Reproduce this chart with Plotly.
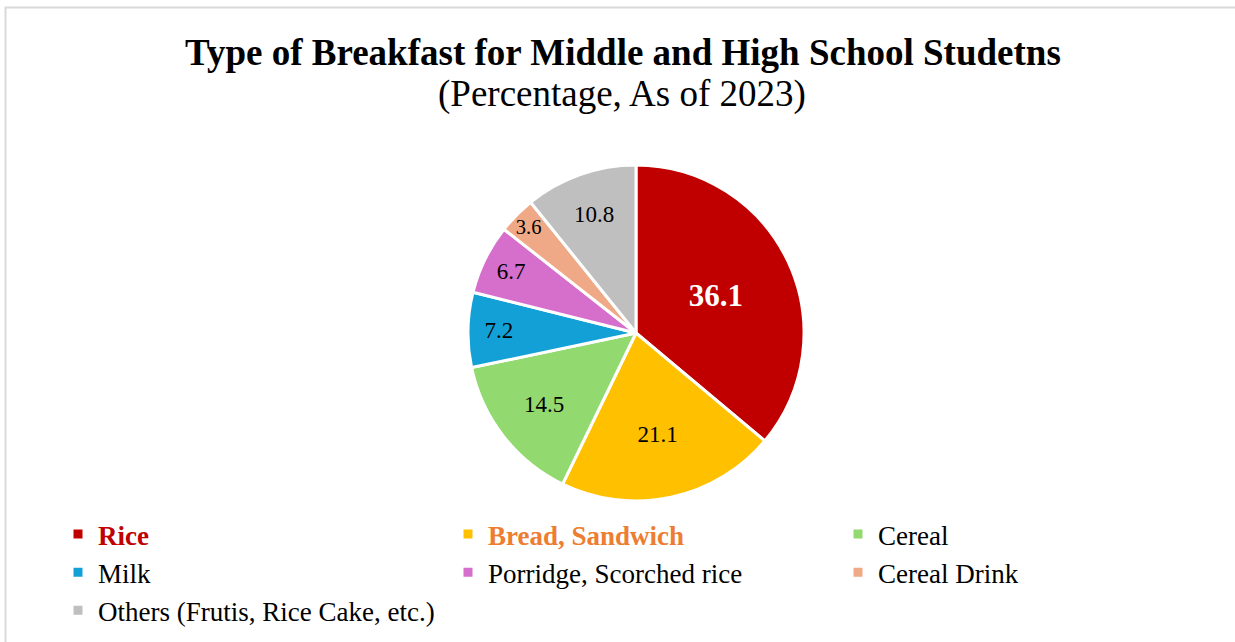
import plotly.graph_objects as go

categories = ["Rice", "Bread, Sandwich", "Cereal", "Milk", "Porridge, Scorched rice",
              "Cereal Drink", "Others (Frutis, Rice Cake, etc.)"]
values = [36.1, 21.1, 14.5, 7.2, 6.7, 3.6, 10.8]
colors = ["#C00000", "#FFC000", "#92D96F", "#12A0D7", "#D66FCB", "#F0A986", "#BFBFBF"]
legend_label_colors = ["#C00000", "#ED7D31", None, None, None, None, None]
text_colors = ["#FFFFFF", "#000000", "#000000", "#000000", "#000000", "#000000", "#000000"]
text_sizes = [31, 23, 23, 23, 23, 23, 23]

title_text = "Type of Breakfast for Middle and High School Studetns"
subtitle_text = "(Percentage, As of 2023)"

FONT = "Liberation Serif, Times New Roman, serif"

display_labels = []
for c, lc in zip(categories, legend_label_colors):
    if lc:
        display_labels.append(f"<b><span style='color:{lc}'>{c}</span></b>")
    else:
        display_labels.append(c)

texts = [f"<b>{v}</b>" if i == 0 else f"{v}" for i, v in enumerate(values)]

W, H = 1235, 642
cx, cy, r = 636, 333, 168

fig = go.Figure(go.Pie(
    labels=display_labels,
    values=values,
    text=texts,
    textinfo="text",
    textposition="inside",
    insidetextorientation="horizontal",
    sort=False,
    direction="clockwise",
    rotation=0,
    marker=dict(colors=colors, line=dict(color="white", width=3)),
    insidetextfont=dict(family=FONT, color=text_colors, size=text_sizes),
    hoverinfo="label+value",
    domain=dict(x=[(cx - r) / W, (cx + r) / W], y=[(H - cy - r) / H, (H - cy + r) / H]),
))

fig.update_layout(
    width=W, height=H,
    margin=dict(l=0, r=0, t=0, b=0),
    paper_bgcolor="white",
    plot_bgcolor="white",
    font=dict(family=FONT, color="#000000"),
    legend=dict(
        orientation="h",
        x=58 / W, xanchor="left",
        y=1 - 510 / H, yanchor="top",
        entrywidth=345, entrywidthmode="pixels",
        font=dict(family=FONT, size=27, color="#000000"),
        bgcolor="rgba(0,0,0,0)",
        itemclick=False,
    ),
    annotations=[
        dict(text=f"<b>{title_text}</b>", x=623 / W, y=1 - 52 / H, xref="paper", yref="paper",
             xanchor="center", yanchor="middle", showarrow=False,
             font=dict(family=FONT, size=37, color="#000000")),
        dict(text=subtitle_text, x=622 / W, y=1 - 94 / H, xref="paper", yref="paper",
             xanchor="center", yanchor="middle", showarrow=False,
             font=dict(family=FONT, size=37, color="#000000")),
    ],
    shapes=[dict(type="rect", xref="paper", yref="paper",
                 x0=5.5 / W, x1=1.01, y0=-0.02, y1=1 - 7.5 / H,
                 line=dict(color="#D9D9D9", width=2), layer="below")],
)

fig.write_html("out.html")
